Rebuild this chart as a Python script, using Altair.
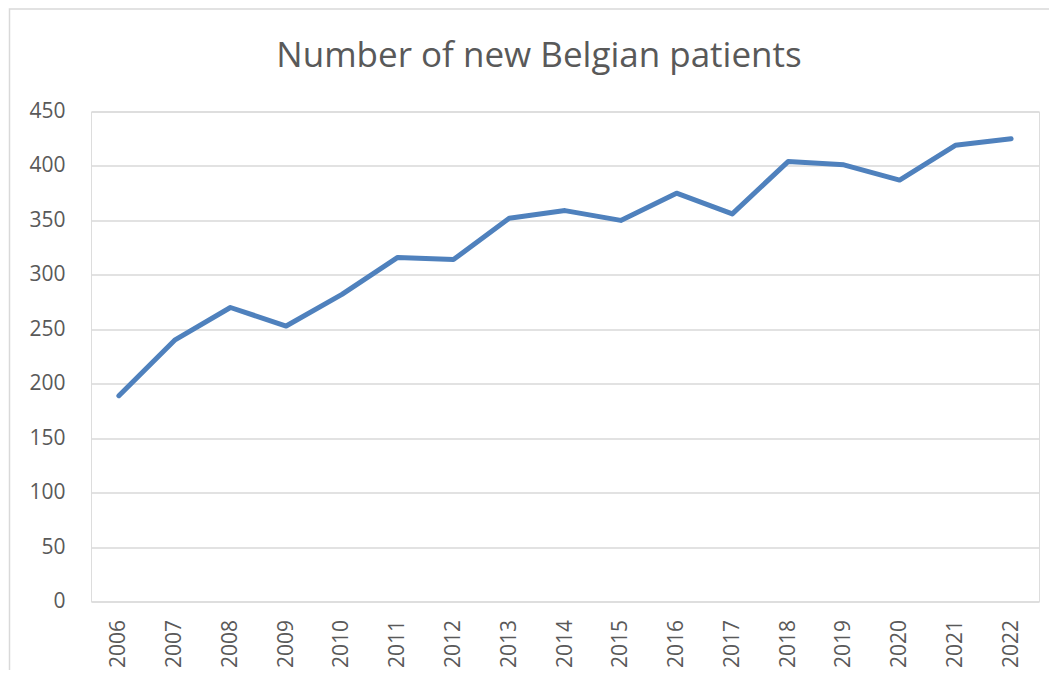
import altair as alt
import pandas as pd

years = ["2006", "2007", "2008", "2009", "2010", "2011", "2012", "2013", "2014",
         "2015", "2016", "2017", "2018", "2019", "2020", "2021", "2022"]
patients = [189, 240, 270, 253, 282, 316, 314, 352, 359, 350, 375, 356, 404, 401, 387, 419, 425]
y_ticks = [0, 50, 100, 150, 200, 250, 300, 350, 400, 450]

df = pd.DataFrame({"year": years, "patients": patients})

FONT = "Open Sans"
GREY = "#595959"
W, H = 948, 490

line = alt.Chart(df).mark_line(color="#4F81BD", strokeWidth=5, strokeCap="round", strokeJoin="round").encode(
    x=alt.X("year:N", sort=years, title=None,
            scale=alt.Scale(paddingInner=0, paddingOuter=0.5),
            axis=alt.Axis(labelAngle=-90, labelAlign="right", labelBaseline="middle",
                          labelPadding=18, ticks=False, domain=False, grid=False,
                          labelFont=FONT, labelFontSize=21, labelColor=GREY)),
    y=alt.Y("patients:Q", title=None,
            scale=alt.Scale(domain=[0, 450], nice=False),
            axis=alt.Axis(values=y_ticks, ticks=False, domain=False, labelPadding=26,
                          labelFont=FONT, labelFontSize=21, labelColor=GREY,
                          gridColor="#d9d9d9", gridWidth=1.5)),
)

border = alt.Chart(alt.Data(values=[{"k": 1}])).mark_rect(
    fill=None, stroke="#d9d9d9", strokeWidth=1.5
).encode(
    x=alt.value(-81.5), x2=alt.value(W + 60),
    y=alt.value(-102.5), y2=alt.value(H + 120),
)

chart = alt.layer(border, line).properties(
    width=W, height=H,
    title=alt.TitleParams("Number of new Belgian patients", font=FONT, fontSize=35,
                          fontWeight="normal", color=GREY, anchor="middle", frame="group",
                          baseline="alphabetic", dx=-26, dy=94, offset=0),
    padding={"left": 83, "top": 103.5, "right": 10, "bottom": 68},
    autosize=alt.AutoSizeParams(type="none"),
).configure_view(stroke=None).configure(background="white")

chart.save("out.html", embed_options={"renderer": "svg", "actions": False})
